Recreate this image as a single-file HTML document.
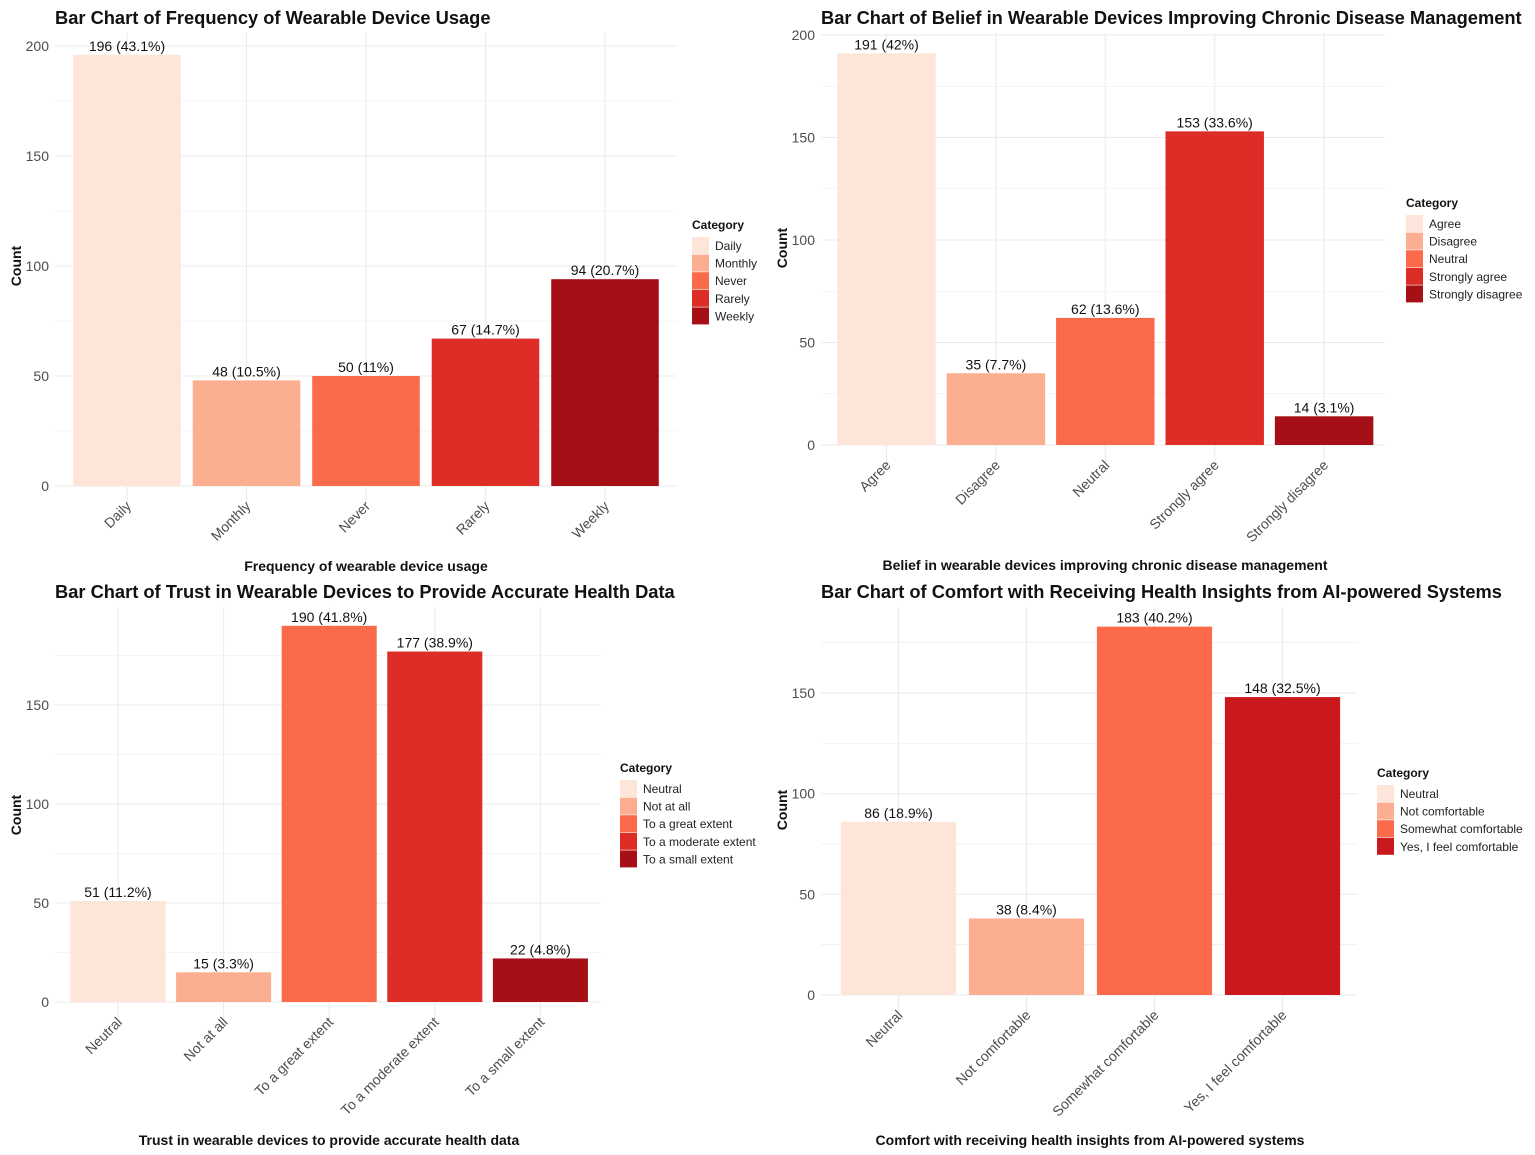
<!DOCTYPE html>
<html><head><meta charset="utf-8"><style>
body{margin:0;background:#fff}
svg{display:block;font-family:"Liberation Sans",Arial,sans-serif}
</style></head><body>
<svg id="c" width="1535" height="1155" xmlns="http://www.w3.org/2000/svg"></svg>
<script>
const cats1=["Daily","Monthly","Never","Rarely","Weekly"];
const vals1=[196,48,50,67,94];
const pcts1=["43.1%","10.5%","11%","14.7%","20.7%"];
const cats2=["Agree","Disagree","Neutral","Strongly agree","Strongly disagree"];
const vals2=[191,35,62,153,14];
const pcts2=["42%","7.7%","13.6%","33.6%","3.1%"];
const cats3=["Neutral","Not at all","To a great extent","To a moderate extent","To a small extent"];
const vals3=[51,15,190,177,22];
const pcts3=["11.2%","3.3%","41.8%","38.9%","4.8%"];
const cats4=["Neutral","Not comfortable","Somewhat comfortable","Yes, I feel comfortable"];
const vals4=[86,38,183,148];
const pcts4=["18.9%","8.4%","40.2%","32.5%"];
const ticks1=[0,50,100,150,200];
const ticks3=[0,50,100,150];
const pal5=["#FEE5D9","#FCAE91","#FB6A4A","#DE2D26","#A50F15"];
const pal4=["#FEE5D9","#FCAE91","#FB6A4A","#CB181D"];
const NS="http://www.w3.org/2000/svg";
const svg=document.getElementById('c');
function mk(tag,attrs,parent,text){const e=document.createElementNS(NS,tag);for(const k in attrs)e.setAttribute(k,attrs[k]);if(text!=null)e.textContent=text;(parent||svg).appendChild(e);return e;}
function panel(p){
  const g=mk('g',{});
  
  
  const y=v=>p.y0-(v)*p.k;
  const n=p.cats.length;
  const x=i=>p.c0+i*p.step;
  const ymax=(p.y0-p.top)/p.k;
  for(let v=0;v<=ymax;v+=25){
    const l=mk('line',{x1:p.px0,x2:p.px1,y1:y(v),y2:y(v),stroke:'#ebebeb','stroke-width':v%50==0?1.1:0.6},g);
    
    
  }
  for(let i=0;i<n;i++){
    const l=mk('line',{x1:x(i),x2:x(i),y1:p.top,y2:p.y0+18,stroke:'#ebebeb','stroke-width':1.1},g);
    
    
  }
  p.ticks.forEach(t=>{
    const e=mk('text',{x:p.px0-6,y:y(t)+5,'text-anchor':'end','font-size':14,fill:'#4d4d4d'},g,t);
    
    
  });
  const bw=p.step*0.9;
  p.vals.forEach((v,i)=>{
    const r=mk('rect',{x:x(i)-bw/2,y:y(v),width:bw,height:v*p.k,fill:p.pal[i]},g);
    
    
    const t=mk('text',{x:x(i),y:y(v)-4,'text-anchor':'middle','font-size':14,fill:'#111'},g,v+' ('+p.pcts[i]+')');
    
    
    const tl=mk('text',{transform:`translate(${x(i)+5},${p.y0+21}) rotate(-45)`,'text-anchor':'end','font-size':14,fill:'#4d4d4d'},g,p.cats[i]);
    
    
  });
  const tt=mk('text',{x:p.tx,y:p.ty,'font-size':18.3,'font-weight':'bold',fill:'#111'},g,p.title);
  
  
  const xt=mk('text',{x:p.xtx,y:p.xty,'text-anchor':'middle','font-size':14,'font-weight':'bold',fill:'#111'},g,p.xtitle);
  
  
  const yt=mk('text',{transform:`translate(${p.ytx},${p.yty}) rotate(-90)`,'text-anchor':'middle','font-size':14,'font-weight':'bold',fill:'#111'},g,'Count');
  
  
  const lg=mk('g',{},g);
  
  
  const lt=mk('text',{x:p.lx,y:p.ly,'font-size':12,'font-weight':'bold',fill:'#111'},lg,'Category');
  
  
  p.cats.forEach((c,i)=>{
    const yy=p.ly+8+i*17.6;
    const r=mk('rect',{x:p.lx,y:yy,width:17,height:17,fill:p.pal[i]},lg);
    
    
    const t=mk('text',{x:p.lx+23,y:yy+13,'font-size':12,fill:'#222'},lg,c);
    
    
  });
}
panel({id:'usage',cats:cats1,vals:vals1,pcts:pcts1,pal:pal5,ticks:ticks1,y0:486,k:2.2,top:33,c0:127,step:119.5,px0:55,px1:676,
  title:'Bar Chart of Frequency of Wearable Device Usage',tx:55,ty:24,xtitle:'Frequency of wearable device usage',xtx:366,xty:571,ytx:21,yty:266,lx:692,ly:229});
panel({id:'belief',cats:cats2,vals:vals2,pcts:pcts2,pal:pal5,ticks:ticks1,y0:445,k:2.05,top:33,c0:886.5,step:109.4,px0:821,px1:1385,
  title:'Bar Chart of Belief in Wearable Devices Improving Chronic Disease Management',tx:821,ty:24,xtitle:'Belief in wearable devices improving chronic disease management',xtx:1105,xty:570,ytx:787,yty:248,lx:1406,ly:207});
panel({id:'trust',cats:cats3,vals:vals3,pcts:pcts3,pal:pal5,ticks:ticks3,y0:1002,k:1.98,top:607,c0:118,step:105.6,px0:55,px1:601,
  title:'Bar Chart of Trust in Wearable Devices to Provide Accurate Health Data',tx:55,ty:598,xtitle:'Trust in wearable devices to provide accurate health data',xtx:329,xty:1145,ytx:21,yty:815,lx:620,ly:772});
panel({id:'comfort',cats:cats4,vals:vals4,pcts:pcts4,pal:pal4,ticks:ticks3,y0:995,k:2.013,top:607,c0:898.5,step:128,px0:821,px1:1357,
  title:'Bar Chart of Comfort with Receiving Health Insights from AI-powered Systems',tx:821,ty:598,xtitle:'Comfort with receiving health insights from AI-powered systems',xtx:1090,xty:1145,ytx:787,yty:810,lx:1377,ly:777});
</script>
</body></html>
